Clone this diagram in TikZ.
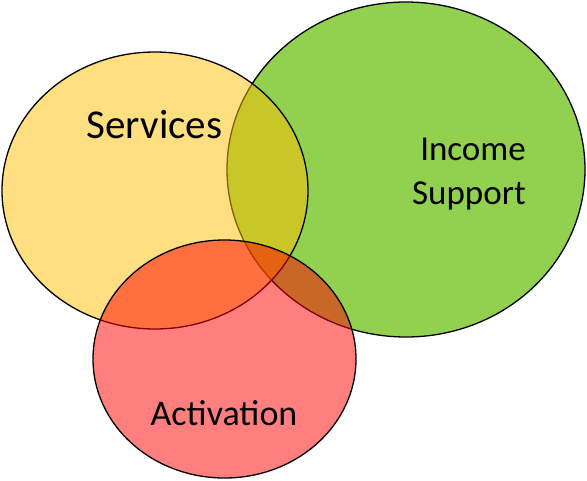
\documentclass[tikz,border=0pt]{standalone}
\usepackage{fontspec}
\setmainfont{Carlito}
\usetikzlibrary{shapes.geometric}
\definecolor{services gold}{HTML}{FFC000}
\definecolor{income green}{HTML}{92D050}
\definecolor{activation red}{HTML}{FF0000}
\begin{document}
\begin{tikzpicture}
    [
        x=1pt,
        y=-1pt,
        set/.style={shape=ellipse, draw=black, line width=1.3pt, inner sep=0pt, outer sep=0pt},
        set income/.style={set, fill=income green, minimum width=358pt, minimum height=335pt},
        set services/.style={set, fill=services gold, fill opacity=0.5, draw opacity=1,
            minimum width=306pt, minimum height=277pt},
        set activation/.style={set, fill=activation red, fill opacity=0.5, draw opacity=1,
            minimum width=263pt, minimum height=238pt},
        set label/.style={inner sep=0pt, font=\fontsize{36}{44}\selectfont},
        set label large/.style={set label, font=\fontsize{41}{48}\selectfont},
        set label small/.style={set label, font=\fontsize{35}{44}\selectfont}
    ]
    \useasboundingbox (0,0) rectangle (587,480);

    \node (income support) [set income]     at (406,169.5) {};
    \node (services)       [set services]   at (155,190.5) {};
    \node (activation)     [set activation] at (224.5,359) {};

    \node (services label)
        [set label large, anchor=base]
        at (154.5,138)
        {Services};
    \node (income label)
        [set label small, anchor=north east, align=right]
        at (526,138)
        {Income\\Support};
    \node (activation label)
        [set label, anchor=base]
        at (224,425)
        {Activation};
\end{tikzpicture}
\end{document}
